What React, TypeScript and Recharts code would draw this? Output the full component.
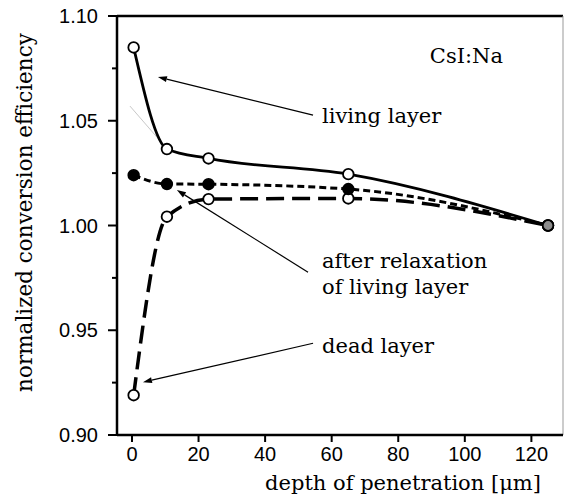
import { LineChart, Line, XAxis, YAxis, ReferenceLine, ReferenceDot, Label } from 'recharts';

const depth = [0.5, 10.5, 23, 65, 125];
const livingLayer = [1.085, 1.0365, 1.032, 1.0245, 1.0];
const afterRelaxation = [1.024, 1.0198, 1.0197, 1.0174, 1.0];
const deadLayer = [0.919, 1.0042, 1.0126, 1.0129, 1.0];

const xTicks = [0, 20, 40, 60, 80, 100, 120];
const yTicks = [0.9, 0.925, 0.95, 0.975, 1.0, 1.025, 1.05, 1.075, 1.1];

// annotation arrows: [fromX, fromY, toX, toY] in data units
const arrows = [
  [54.4, 1.0527, 7.8, 1.0709],
  [52.9, 0.9777, 13.5, 1.0169],
  [54.4, 0.9438, 3.3, 0.9252],
];
const notes = [
  { x: 89.5, y: 1.0776, text: 'CsI:Na' },
  { x: 57.1, y: 1.0489, text: 'living layer' },
  { x: 57.1, y: 0.9797, text: 'after relaxation' },
  { x: 57.1, y: 0.9672, text: 'of living layer' },
  { x: 57.1, y: 0.9391, text: 'dead layer' },
];

const data = depth.map((d, i) => ({
  depth: d,
  living: livingLayer[i],
  relaxed: afterRelaxation[i],
  dead: deadLayer[i],
}));

const SERIF = '"DejaVu Serif", serif';
const SANS = '"Liberation Sans", Arial, sans-serif';

const arrowShape = (props: any) => {
  const { x1, y1, x2, y2 } = props;
  const a = Math.atan2(y2 - y1, x2 - x1);
  const len = 9;
  const half = 3;
  const bx = x2 - len * Math.cos(a);
  const by = y2 - len * Math.sin(a);
  const pts = `${x2},${y2} ${bx - half * Math.sin(a)},${by + half * Math.cos(a)} ${bx + half * Math.sin(a)},${by - half * Math.cos(a)}`;
  return (
    <g>
      <line x1={x1} y1={y1} x2={bx} y2={by} stroke="#000" strokeWidth={1.2} />
      <polygon points={pts} fill="#000" />
    </g>
  );
};

const makeDot = (filled: boolean) => (props: any) => {
  const { cx, cy, index } = props;
  const last = index === depth.length - 1;
  return (
    <circle
      key={`d${index}`}
      cx={cx}
      cy={cy}
      r={5.3}
      fill={last ? '#8c8c8c' : filled ? '#000' : '#fff'}
      stroke="#000"
      strokeWidth={1.8}
    />
  );
};

const YTick = (props: any) => {
  const { x, y, payload } = props;
  const v = payload.value;
  const major = Math.abs(v * 20 - Math.round(v * 20)) < 1e-6;
  const ax = x + 19;
  return (
    <g>
      <line x1={ax - (major ? 9 : 5)} y1={y} x2={ax} y2={y} stroke="#000" strokeWidth={2} />
      {major && (
        <text x={x} y={y} dy="0.355em" textAnchor="end" fontFamily={SANS} fontSize={20} fill="#000">
          {v.toFixed(2)}
        </text>
      )}
    </g>
  );
};

export default function App() {
  return (
    <div style={{ position: 'absolute', left: 0, top: 0, background: '#fff' }}>
      <LineChart width={566} height={502} data={data} margin={{ top: 16, right: 3, bottom: 0, left: 0 }}>
        <XAxis
          type="number"
          dataKey="depth"
          domain={[-4.5, 129.5]}
          ticks={xTicks}
          height={67}
          tickSize={7}
          tickMargin={5}
          axisLine={{ stroke: '#000', strokeWidth: 2.5 }}
          tickLine={{ stroke: '#000', strokeWidth: 2 }}
          tick={{ fill: '#000', fontSize: 20, fontFamily: SANS }}
        >
          <Label
            content={(p: any) => {
              const vb = p.viewBox;
              return (
                <text x={vb.x + 286} y={490} textAnchor="middle" fontFamily={SERIF} fontSize={21} fill="#000">
                  depth of penetration [μm]
                </text>
              );
            }}
          />
        </XAxis>
        <YAxis
          type="number"
          domain={[0.9, 1.1]}
          ticks={yTicks}
          width={117}
          tickSize={9}
          tickMargin={10}
          tickLine={false}
          axisLine={{ stroke: '#000', strokeWidth: 2.5 }}
          tick={<YTick />}
          interval={0}
        >
          <Label
            content={(p: any) => {
              const vb = p.viewBox;
              const cx = 24;
              const cy = vb.y + vb.height / 2 - 13;
              return (
                <text
                  x={cx}
                  y={cy}
                  transform={`rotate(-90 ${cx} ${cy})`}
                  textAnchor="middle"
                  dominantBaseline="central"
                  fontFamily={SERIF}
                  fontSize={21.5}
                  fill="#000"
                >
                  normalized conversion efficiency
                </text>
              );
            }}
          />
        </YAxis>
        <ReferenceLine y={1.1} stroke="#000" strokeWidth={2.5} ifOverflow="visible" />
        <ReferenceLine x={129.5} stroke="#999" strokeWidth={1} ifOverflow="visible" />
        <ReferenceLine
          segment={[{ x: -0.6, y: 1.057 }, { x: 9.0, y: 1.0394 }]}
          stroke="#c8c8c8"
          strokeWidth={1}
          ifOverflow="visible"
        />
        {arrows.map((a, i) => (
          <ReferenceLine
            key={`a${i}`}
            segment={[{ x: a[0], y: a[1] }, { x: a[2], y: a[3] }]}
            shape={arrowShape}
            ifOverflow="visible"
          />
        ))}
        <Line
          type="monotone"
          dataKey="dead"
          stroke="#000"
          strokeWidth={3.5}
          strokeDasharray="18 8"
          dot={makeDot(false)}
          isAnimationActive={false}
        />
        <Line
          type="monotone"
          dataKey="relaxed"
          stroke="#000"
          strokeWidth={3}
          strokeDasharray="7 4"
          dot={makeDot(true)}
          isAnimationActive={false}
        />
        <Line
          type="monotone"
          dataKey="living"
          stroke="#000"
          strokeWidth={2.8}
          dot={makeDot(false)}
          isAnimationActive={false}
        />
        {notes.map((n, i) => (
          <ReferenceDot
            key={`n${i}`}
            x={n.x}
            y={n.y}
            ifOverflow="visible"
            shape={(p: any) => (
              <text x={p.cx} y={p.cy} fontFamily={SERIF} fontSize={21} fill="#000">
                {n.text}
              </text>
            )}
          />
        ))}
      </LineChart>
    </div>
  );
}
